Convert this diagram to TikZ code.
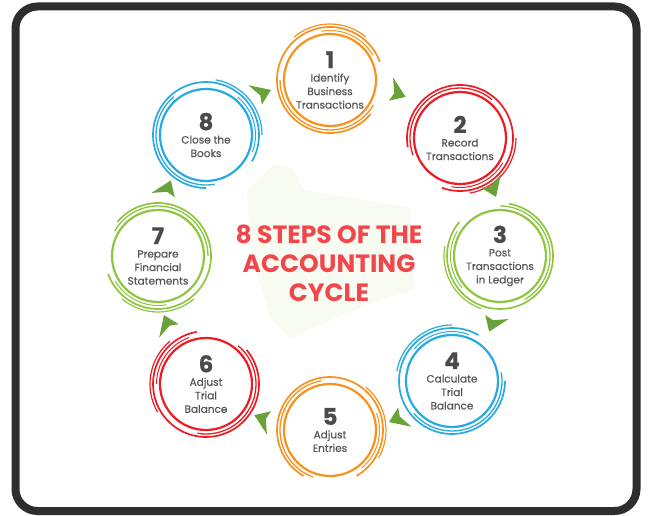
\documentclass[tikz,border=0pt]{standalone}
\usepackage{fontspec}
\setmainfont{Poppins}
\newfontfamily\labelfont{Poppins}[FakeBold=0.5]
\usetikzlibrary{calc}
\definecolor{orangering}{HTML}{F7921E}
\definecolor{redring}{HTML}{EC1C24}
\definecolor{greenring}{HTML}{8DC63F}
\definecolor{bluering}{HTML}{27AAE1}
\definecolor{chevgreen}{HTML}{6AA23A}
\definecolor{titlered}{HTML}{F2474A}
\definecolor{labelgrey}{HTML}{555555}
\definecolor{numgrey}{HTML}{4A4A4A}
\definecolor{framegrey}{HTML}{2E2E2E}
\definecolor{mapgreen}{HTML}{F7FBF1}
\newcommand{\stepnum}[1]{{\fontsize{23}{23}\selectfont\bfseries\color{numgrey}#1}}

\begin{document}
\begin{tikzpicture}[x=1pt, y=1pt,
  stepcircle/.style={draw=#1, circle, line width=2.2pt, minimum size=92pt, inner sep=0pt,
    align=center, text=labelgrey, font=\labelfont\fontsize{10.5}{13.5}\selectfont},
  chevron/.style={fill=chevgreen}]
  \useasboundingbox (0,0) rectangle (650,-516);
  \draw[framegrey, line width=8pt, rounded corners=22pt] (15.5,-6.5) rectangle (636.5,-511);
  \fill[mapgreen] (273,-165) -- (292,-168) -- (305,-190) -- (410,-208) -- (414,-290) -- (366,-305)
    -- (290,-338) -- (270,-318) -- (250,-250) -- (247,-190) -- cycle;
  \coordinate (hub) at (330,-256);

  \node[stepcircle=orangering] (s1) at (330,-80) {\stepnum{1}\\Identify\\Business\\Transactions};
  \node[stepcircle=redring] (s2) at (460,-138) {\stepnum{2}\\Record\\Transactions};
  \node[stepcircle=greenring] (s3) at (500,-256) {\stepnum{3}\\Post\\Transactions\\in Ledger};
  \node[stepcircle=bluering] (s4) at (452,-381) {\stepnum{4}\\Calculate\\Trial\\Balance};
  \node[stepcircle=orangering] (s5) at (330,-430) {\stepnum{5}\\Adjust\\Entries};
  \node[stepcircle=redring] (s6) at (206,-384) {\stepnum{6}\\Adjust\\Trial\\Balance};
  \node[stepcircle=greenring] (s7) at (158,-256) {\stepnum{7}\\Prepare\\Financial\\Statements};
  \node[stepcircle=bluering] (s8) at (206,-135) {\stepnum{8}\\Close the\\Books};

  \node[text=titlered, font=\fontsize{25}{29}\selectfont\bfseries, align=center] (title) at (329,-263)
    {8 STEPS OF THE\\ACCOUNTING\\CYCLE};

  \foreach \n/\c/\a in {s1/orangering/20, s2/redring/250, s3/greenring/140, s4/bluering/60,
                        s5/orangering/300, s6/redring/100, s7/greenring/200, s8/bluering/330} {
    \draw[\c, line width=1.7pt] ([shift={(\a:53)}]\n.center) arc[start angle=\a, delta angle=300, radius=53];
    \draw[\c, line width=1.3pt] ([shift={(\a+160:50)}]\n.center) arc[start angle=\a+160, delta angle=150, radius=50];
    \draw[\c, line width=1.2pt] ([shift={(\a+30:56)}]\n.center) arc[start angle=\a+30, delta angle=80, radius=56];
    \draw[\c, line width=1pt] ([shift={(\a+10:49.5)}]\n.center) arc[start angle=\a+10, delta angle=70, radius=49.5];
  }

  \foreach \a in {67.5, 22.5, -22.5, -67.5, -112.5, -157.5, 157.5, 112.5} {
    \fill[chevron, shift={($(hub)+(\a:177)$)}, rotate=\a-90] (-10,12) -- (9,-1) -- (-5,-11) -- (-3,-2) -- cycle;
  }
\end{tikzpicture}
\end{document}
